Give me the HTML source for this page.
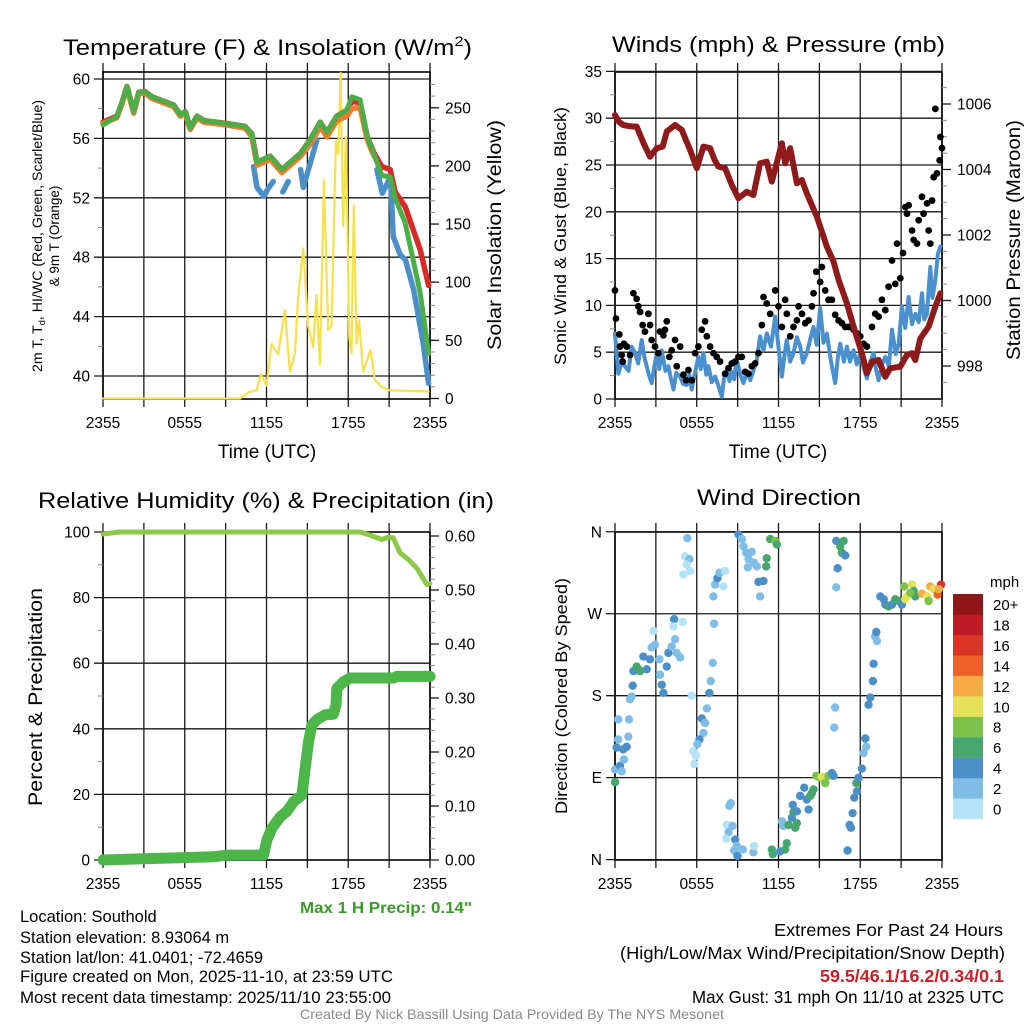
<!DOCTYPE html>
<html><head><meta charset="utf-8"><style>
html,body{margin:0;padding:0;background:#fff;}
svg{display:block;font-family:"Liberation Sans",Arial,sans-serif;}
</style></head><body>
<svg id="c" width="1024" height="1024" viewBox="0 0 1024 1024">
<rect x="0" y="0" width="1024" height="1024" fill="#fff"/>
<g id="g1"></g>
<g id="g2"></g>
<g id="g3"></g>
<g id="g4"></g>
<g font-size="22" fill="#000">
<text x="63" y="55" textLength="409" lengthAdjust="spacingAndGlyphs">Temperature (F) &amp; Insolation (W/m<tspan font-size="14" dy="-9">2</tspan><tspan dy="9">)</tspan></text>
<text x="612" y="52" textLength="333" lengthAdjust="spacingAndGlyphs">Winds (mph) &amp; Pressure (mb)</text>
<text x="38" y="508" textLength="456" lengthAdjust="spacingAndGlyphs">Relative Humidity (%) &amp; Precipitation (in)</text>
<text x="697" y="505" textLength="164" lengthAdjust="spacingAndGlyphs">Wind Direction</text>
</g>
<g font-size="19">
<text x="267" y="458" text-anchor="middle">Time (UTC)</text>
<text x="778" y="458" text-anchor="middle">Time (UTC)</text>
</g>
<g font-size="13.5">
<text transform="translate(42,236) rotate(-90)" text-anchor="middle" textLength="272" lengthAdjust="spacingAndGlyphs">2m T, T<tspan font-size="9" dy="3">d</tspan><tspan dy="-3">, HI/WC (Red, Green, Scarlet/Blue)</tspan></text>
<text transform="translate(59,236) rotate(-90)" text-anchor="middle">&amp; 9m T (Orange)</text>
</g>
<g font-size="19">
<text transform="translate(501,235) rotate(-90)" text-anchor="middle" textLength="230" lengthAdjust="spacingAndGlyphs">Solar Insolation (Yellow)</text>
<text transform="translate(566,236) rotate(-90)" text-anchor="middle" font-size="16.5" textLength="258" lengthAdjust="spacingAndGlyphs">Sonic Wind &amp; Gust (Blue, Black)</text>
<text transform="translate(1020,240) rotate(-90)" text-anchor="middle" textLength="240" lengthAdjust="spacingAndGlyphs">Station Pressure (Maroon)</text>
<text transform="translate(42,697) rotate(-90)" text-anchor="middle" textLength="218" lengthAdjust="spacingAndGlyphs">Percent &amp; Precipitation</text>
<text transform="translate(567,696) rotate(-90)" text-anchor="middle" font-size="16.5" textLength="236" lengthAdjust="spacingAndGlyphs">Direction (Colored By Speed)</text>
</g>
<text x="300" y="913" textLength="172" lengthAdjust="spacingAndGlyphs" font-size="15.5" font-weight="bold" fill="#3a9a2a">Max 1 H Precip: 0.14"</text>
<g font-size="16.5">
<text x="20" y="922">Location: Southold</text>
<text x="20" y="943">Station elevation: 8.93064 m</text>
<text x="20" y="963">Station lat/lon: 41.0401; -72.4659</text>
<text x="20" y="982" textLength="373" lengthAdjust="spacingAndGlyphs">Figure created on Mon, 2025-11-10, at 23:59 UTC</text>
<text x="20" y="1003" textLength="371" lengthAdjust="spacingAndGlyphs">Most recent data timestamp: 2025/11/10 23:55:00</text>
</g>
<g font-size="17.5">
<text x="774" y="936" textLength="229" lengthAdjust="spacingAndGlyphs">Extremes For Past 24 Hours</text>
<text x="620" y="959" textLength="385" lengthAdjust="spacingAndGlyphs">(High/Low/Max Wind/Precipitation/Snow Depth)</text>
<text x="820" y="982" textLength="184" lengthAdjust="spacingAndGlyphs" font-weight="bold" fill="#c8202a">59.5/46.1/16.2/0.34/0.1</text>
<text x="692" y="1003" textLength="312" lengthAdjust="spacingAndGlyphs">Max Gust: 31 mph On 11/10 at 2325 UTC</text>
</g>
<text x="300" y="1019" textLength="424" lengthAdjust="spacingAndGlyphs" font-size="14" fill="#8a8a8a">Created By Nick Bassill Using Data Provided By The NYS Mesonet</text>
</svg>
<script>
// ---------- data ----------
var timeTickLabels = ["2355","0555","1155","1755","2355"];
var tempRed = [[0,57.1],[1.03,57.5],[1.39,58.4],[1.76,59.5],[2.25,57.8],[2.62,59.1],[3.1,59.15],[3.59,58.8],[5.18,58.25],[5.67,57.6],[6.04,57.8],[6.41,56.7],[6.9,57.5],[7.4,57.2],[9.1,57.0],[10.44,56.8],[10.93,56.3],[11.3,54.4],[12.27,54.8],[13.13,53.9],[14.5,55.0],[15.2,55.9],[15.94,57.1],[16.43,56.4],[17.16,57.5],[17.9,57.9],[18.26,58.5],[18.87,58.4],[19.4,56.1],[19.9,55.0],[20.47,54.1],[21.08,53.9],[21.44,52.4],[22.18,51.4],[23.28,48.5],[23.9,46.1]];
var tempOrange = [[0,57.0],[1.03,57.4],[1.39,58.3],[1.76,59.4],[2.25,57.7],[2.62,59.0],[3.1,59.05],[3.59,58.7],[5.18,58.15],[5.67,57.5],[6.04,57.7],[6.41,56.6],[6.9,57.4],[7.4,57.1],[9.1,56.9],[10.44,56.7],[10.93,56.1],[11.3,54.2],[12.27,54.6],[13.13,53.7],[14.5,54.8],[15.2,55.6],[15.94,56.8],[16.43,56.1],[17.16,57.2],[17.9,57.5],[18.26,58.0],[18.87,58.1],[19.4,55.9],[19.9,54.8]];
var tempGreen = [[0,56.9],[1.03,57.5],[1.39,58.4],[1.76,59.5],[2.25,57.8],[2.62,59.1],[3.1,59.15],[3.59,58.8],[5.18,58.25],[5.67,57.6],[6.04,57.8],[6.41,56.7],[6.9,57.5],[7.4,57.2],[9.1,57.0],[10.44,56.8],[10.93,56.3],[11.3,54.4],[12.27,54.8],[13.13,53.9],[14.5,55.0],[15.2,55.9],[15.94,57.1],[16.43,56.4],[17.16,57.5],[17.9,57.9],[18.26,58.8],[18.87,58.6],[19.4,56.1],[19.9,54.9],[20.47,53.5],[21.08,53.4],[21.44,52.0],[22.18,50.3],[23.28,45.6],[23.9,41.5]];
var tempBlueA = [[11.05,54.1],[11.3,52.7],[11.8,52.1],[12.1,52.6],[12.5,53.1]];
var tempBlueB = [[13.2,52.4],[13.6,53.1]];
var tempBlueC = [[14.5,53.9],[14.7,52.7],[15.2,54.3],[15.7,55.9]];
var tempBlueD = [[20.1,53.9],[20.5,52.3],[21.1,53.4],[21.3,49.4],[21.8,48.2],[22.2,47.8],[22.8,45.8],[23.5,42.2],[23.9,39.5]];
var solar = [[0,0],[10.05,0],[10.71,5.7],[11.27,7],[11.59,21],[12.0,11],[12.37,47],[12.86,38],[13.35,76],[13.72,23],[14.09,39],[14.33,88],[14.7,129],[15.06,62],[15.43,44],[15.67,89],[15.92,29],[16.21,188],[16.53,59],[16.77,62],[17.09,221],[17.26,210],[17.44,280],[17.63,148],[17.83,225],[18.07,53],[18.24,39],[18.41,166],[18.61,47],[18.8,67],[19.1,23],[19.63,42],[19.95,16],[20.44,10],[21.05,7],[23.9,6]];
var windSpeed = [[0,7.0],[0.24,2.7],[0.5,4.0],[0.73,3.5],[1.0,3.0],[1.22,5.6],[1.47,4.9],[1.7,3.8],[1.96,6.3],[2.15,4.5],[2.33,3.5],[2.5,2.5],[2.69,1.7],[2.9,3.6],[3.06,4.9],[3.25,3.2],[3.43,5.2],[3.7,3.0],[3.92,3.5],[4.1,2.2],[4.29,1.0],[4.5,2.8],[4.78,2.4],[5.0,1.6],[5.27,1.5],[5.45,2.6],[5.63,1.0],[5.9,3.0],[6.12,4.5],[6.3,3.2],[6.49,4.9],[6.7,2.6],[6.86,3.5],[7.1,1.8],[7.35,2.4],[7.6,1.4],[7.84,0.25],[8.0,2.2],[8.2,3.1],[8.4,1.9],[8.57,2.9],[8.75,2.1],[8.94,4.2],[9.2,2.6],[9.43,1.7],[9.7,3.0],[9.92,2.0],[10.2,3.2],[10.41,4.2],[10.65,6.7],[10.9,5.2],[11.14,7.0],[11.45,5.6],[11.76,8.8],[12.0,5.5],[12.25,2.4],[12.45,4.8],[12.61,6.3],[12.85,4.0],[13.1,4.9],[13.35,6.6],[13.59,5.6],[13.8,3.9],[14.08,4.9],[14.3,6.2],[14.57,7.7],[14.8,5.8],[15.06,9.7],[15.3,6.0],[15.55,7.0],[15.85,4.0],[16.16,1.7],[16.35,4.4],[16.53,5.9],[16.8,4.0],[17.02,5.6],[17.25,4.0],[17.51,5.2],[17.75,3.7],[18.0,4.9],[18.25,3.3],[18.49,2.2],[18.75,4.0],[18.98,4.9],[19.15,3.2],[19.35,2.0],[19.6,3.7],[19.84,4.5],[20.1,3.5],[20.33,7.4],[20.6,4.8],[20.82,5.9],[21.06,9.9],[21.3,7.6],[21.55,10.9],[21.8,8.0],[22.04,9.1],[22.3,8.2],[22.53,11.3],[22.7,8.5],[22.9,9.1],[23.14,14.1],[23.3,10.8],[23.51,12.7],[23.7,15.5],[23.88,16.3]];
var gustT = [0,0.07,0.32,0.37,0.49,0.56,0.66,0.86,1.10,1.35,1.59,1.71,1.84,2.03,2.20,2.45,2.57,2.69,2.94,3.18,3.31,3.55,3.67,3.80,3.99,4.16,4.41,4.53,4.78,5.02,5.22,5.39,5.63,5.88,6.12,6.37,6.61,6.74,6.98,7.22,7.47,7.71,8.08,8.33,8.57,8.82,9.06,9.31,9.55,9.80,10.04,10.29,10.53,10.78,10.90,11.14,11.39,11.76,12.00,12.25,12.49,12.61,12.86,13.10,13.35,13.47,13.72,13.96,14.21,14.45,14.57,14.77,15.06,15.18,15.43,15.67,15.92,16.16,16.41,16.65,16.90,17.14,17.51,17.76,18.00,18.25,18.49,18.86,19.10,19.35,19.59,19.84,20.08,20.33,20.57,20.70,20.94,21.14,21.31,21.43,21.55,21.80,21.92,22.16,22.29,22.53,22.65,22.90,23.02,23.14,23.27,23.39,23.51,23.63,23.83,23.88,24.0];
var gustV = [11.6,8.6,6.9,5.6,4.7,4.0,5.9,5.6,4.7,11.3,10.7,9.9,9.3,7.9,7.2,9.1,7.9,6.3,5.6,4.9,7.2,6.8,7.4,8.3,4.5,5.2,6.3,3.5,5.6,2.6,2.0,3.1,2.0,4.9,5.6,7.4,8.3,6.7,5.6,4.9,4.5,4.0,2.7,3.3,3.8,4.0,4.5,4.5,2.9,2.7,3.5,3.8,4.9,7.9,10.9,10.2,9.1,11.6,9.9,7.7,10.6,9.1,6.7,7.7,8.4,9.9,9.1,8.1,8.4,9.9,11.3,13.6,12.5,14.1,11.6,10.6,10.6,9.0,8.4,8.1,7.7,7.7,7.4,7.0,6.7,5.9,5.6,7.7,9.1,8.8,10.6,9.5,12.0,14.8,12.3,16.6,12.9,15.6,20.5,19.8,20.7,18.0,17.0,16.6,19.1,21.6,19.8,20.9,18.0,16.6,21.2,23.7,31.0,24.1,25.5,28.0,26.8];
var pressure = [[0,1005.66],[0.3,1005.45],[0.61,1005.36],[1.1,1005.32],[1.59,1005.31],[2.1,1004.8],[2.57,1004.39],[3.06,1004.65],[3.5,1004.7],[3.80,1005.16],[4.41,1005.36],[4.90,1005.21],[5.2,1004.9],[5.51,1004.6],[6.0,1004.04],[6.49,1004.7],[6.98,1004.65],[7.3,1004.3],[7.59,1004.09],[8.08,1004.04],[8.57,1003.53],[9.06,1003.12],[9.67,1003.32],[10.16,1003.22],[10.65,1004.19],[11.14,1004.24],[11.51,1003.63],[12.25,1004.8],[12.49,1004.19],[12.86,1004.65],[13.35,1003.58],[13.72,1003.68],[14.08,1003.27],[14.82,1002.56],[15.55,1001.64],[16.04,1001.19],[16.41,1000.63],[17.02,999.91],[17.51,999.2],[18.12,998.39],[18.49,997.78],[18.86,998.13],[19.35,998.18],[19.84,997.67],[20.2,997.93],[20.94,997.98],[21.43,998.34],[21.8,998.39],[22.04,998.18],[22.41,998.84],[23.02,999.2],[23.51,999.81],[23.88,1000.22]];
var rh = [[0,99.4],[1.2,100],[18.88,100],[19.61,99],[20.46,97.7],[20.95,98.4],[21.3,98.2],[21.81,93.6],[22.42,91.6],[23.03,89],[23.4,86.5],[23.77,84],[24,84.3]];
var precip = [[0,0],[8.12,0.006],[9.1,0.009],[11.78,0.009],[12.03,0.037],[12.4,0.059],[13.01,0.08],[13.5,0.09],[13.99,0.108],[14.6,0.12],[14.84,0.17],[15.09,0.22],[15.33,0.25],[15.7,0.26],[16.31,0.269],[16.9,0.27],[17.1,0.287],[17.16,0.318],[17.65,0.33],[18.14,0.337],[21.32,0.337],[21.56,0.34],[24,0.34]];
var dirT = [0,0,0.37,0.49,0.66,0.12,0.24,0.61,0.86,0.98,0.24,1.03,1.10,1.22,1.30,1.35,1.59,1.71,1.84,2.08,2.33,2.57,2.69,2.94,2.82,3.26,3.31,3.43,3.55,3.80,3.92,4.16,4.41,4.53,4.78,4.34,4.29,4.97,5.63,5.31,5.14,5.46,5.27,5.51,5.02,7.27,7.18,7.03,6.93,6.74,6.37,6.61,6.49,6.20,6.05,5.76,5.83,5.95,7.22,7.35,7.52,7.67,7.96,8.08,8.50,8.40,8.20,8.33,8.16,8.62,8.82,8.94,8.74,8.99,9.38,10.16,10.21,9.06,9.31,9.43,9.63,10.04,9.80,10.21,10.41,9.75,10.53,10.90,10.65,11.14,11.10,11.39,11.76,11.88,11.51,11.58,12.12,12.49,12.25,12.37,12.61,12.74,13.23,13.35,12.98,13.10,13.35,13.05,13.59,13.89,14.08,14.21,14.33,14.45,14.57,14.77,15.06,15.18,15.43,15.67,15.92,16.04,16.16,16.09,16.24,16.53,16.65,16.90,16.34,16.24,16.78,17.07,17.22,17.32,17.44,17.56,17.76,17.71,17.88,18.12,18.25,18.44,18.37,18.61,18.74,18.93,18.98,19.10,19.23,19.18,19.47,19.72,19.84,20.08,20.33,20.57,20.82,21.06,21.23,21.43,21.80,21.92,22.04,21.67,22.53,22.90,23.02,23.14,23.39,23.68,23.93,23.76,21.31];
var dirDeg = [85,99,103,97,110,123,132,121,124,135,154,154,176,179,191,207,212,209,207,223,209,220,233,236,251,220,203,192,183,212,227,234,242,227,222,264,256,261,180,353,333,330,324,317,313,259,216,196,183,166,155,150,139,132,127,119,105,114,289,302,309,315,300,317,62,59,38,30,23,37,22,15,10,4,11,8,15,357,352,344,337,338,330,326,322,321,305,306,289,331,322,352,350,346,11,6,9,11,42,37,18,38,35,40,46,52,53,60,70,79,66,55,70,73,77,92,90,91,84,92,95,92,167,145,350,344,337,334,320,299,350,10,38,35,51,68,75,84,90,100,117,124,133,170,178,196,215,245,240,250,289,286,280,278,280,286,284,280,300,289,302,295,289,293,292,289,284,300,297,291,302,297,286];
var dirSpd = [7,3,5,3,3,5,3,5,5,3,3,3,3,3,5,5,7,7,7,5,5,5,3,3,1,3,3,5,5,5,5,3,3,3,3,5,1,1,1,3,1,3,1,1,1,3,3,3,5,3,5,3,3,5,3,1,1,1,3,3,5,3,1,1,3,3,1,3,1,3,5,3,3,5,3,3,1,5,3,3,3,3,3,3,3,3,5,5,3,7,7,7,9,7,7,7,5,7,3,3,7,7,7,7,5,7,5,5,5,5,5,5,7,7,7,9,9,11,9,9,5,5,3,3,5,7,7,5,5,3,7,5,5,5,5,5,5,7,5,5,3,3,5,5,5,5,5,3,3,5,5,5,5,7,5,7,7,5,9,11,11,7,7,9,13,11,9,13,11,14,17,12,11];
var speedBins = ["0","2","4","6","8","10","12","14","16","18","20+"];
var binColors = ["#b4e2f6","#7fbce6","#4a8fc8","#46a66e","#7cc24a","#e6e058","#f6ab46","#ee6229","#dc3327","#bd1c24","#8f1519"];
var dirLabels = ["N","E","S","W","N"];

// ---------- scales ----------
var NS = "http://www.w3.org/2000/svg";
function mk(parent, tag, attrs){ var e=document.createElementNS(NS,tag); for(var k in attrs) e.setAttribute(k,attrs[k]); parent.appendChild(e); return e; }
function xL(t){ return 103 + t/24*327; }
function xR(t){ return 615 + t/24*327; }
function yTemp(v){ return 79 + (60-v)*14.85; }
function ySolar(v){ return 398.5 - v*1.163; }
function yWind(v){ return 399 - v*9.36; }
function yPres(p){ return 104 + (1006-p)*32.75; }
function yRH(v){ return 860 - v*3.28; }
function yPr(v){ return 860 - v*540; }
function yDir(d){ return 859.6 - d*0.9106; }

function frame(g, xs, x0, x1, y0, y1, name){
  var i, t, x;
  for(i=0;i<=8;i++){ t=i*3; x=xs(t);
    var l=mk(g,'line',{x1:x,x2:x,y1:y0-9,y2:y1+8,stroke:'#1a1a1a','stroke-width':1.3});
    
    
  }
  for(i=0;i<timeTickLabels.length;i++){ x=xs(i*6);
    var tx=mk(g,'text',{x:x,y:y1+29,'font-size':15.5,'text-anchor':'middle'});
    tx.textContent=timeTickLabels[i];
    
    
  }
  var b=mk(g,'rect',{x:x0,y:y0,width:x1-x0,height:y1-y0,fill:'none',stroke:'#000','stroke-width':1.6});
  
  
}
function leftAxis(g, x0, x1, ys, majors, labels, minors, name, grid){
  var i,y;
  for(i=0;i<minors.length;i++){ y=ys(minors[i]);
    var m=mk(g,'line',{x1:x0-5,x2:x0,y1:y,y2:y,stroke:'#888','stroke-width':1});
    
    
  }
  for(i=0;i<majors.length;i++){ y=ys(majors[i]);
    var l=mk(g,'line',{x1:x0-9,x2:grid?x1:x0,y1:y,y2:y,stroke:'#1a1a1a','stroke-width':1.3});
    
    
    var tx=mk(g,'text',{x:x0-13,y:y+5.5,'font-size':15.5,'text-anchor':'end'});
    tx.textContent=labels[i];
    
    
  }
}
function rightAxis(g, x1, ys, majors, labels, minors, name){
  var i,y;
  for(i=0;i<minors.length;i++){ y=ys(minors[i]);
    var m=mk(g,'line',{x1:x1,x2:x1+5,y1:y,y2:y,stroke:'#888','stroke-width':1});
    
    
  }
  for(i=0;i<majors.length;i++){ y=ys(majors[i]);
    var l=mk(g,'line',{x1:x1,x2:x1+9,y1:y,y2:y,stroke:'#1a1a1a','stroke-width':1.3});
    
    
    var tx=mk(g,'text',{x:x1+15,y:y+5.5,'font-size':15.5});
    tx.textContent=labels[i];
    
    
  }
}
function range(a,b,s){ var r=[]; for(var v=a; v<=b+1e-9; v+=s) r.push(Math.round(v*1000)/1000); return r; }
function pathD(pts, xs, ys){ return pts.map(function(p,i){ return (i?'L':'M')+xs(p[0]).toFixed(1)+','+ys(p[1]).toFixed(1); }).join(''); }
function series(g, pts, xs, ys, color, w, name){
  var p=mk(g,'path',{d:pathD(pts,xs,ys),fill:'none',stroke:color,'stroke-width':w,'stroke-linejoin':'round','stroke-linecap':'round'});
  
  
  return p;
}

// ---------- panel 1 ----------
var g1=document.getElementById('g1');
frame(g1, xL, 103, 430, 72, 399, 'temperature');
leftAxis(g1, 103, 430, yTemp, [40,44,48,52,56,60], ["40","44","48","52","56","60"], [42,46,50,54,58], 'temperature', true);
rightAxis(g1, 430, ySolar, range(0,250,50), ["0","50","100","150","200","250"], range(0,270,10), 'insolation');
series(g1, solar, xL, ySolar, '#f7e04a', 2.2, 'solar-insolation-line');
series(g1, tempBlueA, xL, yTemp, '#4a8fc8', 5.5, 'wind-chill-segment-1');
series(g1, tempBlueB, xL, yTemp, '#4a8fc8', 5.5, 'wind-chill-segment-2');
series(g1, tempBlueC, xL, yTemp, '#4a8fc8', 5.5, 'wind-chill-segment-3');
series(g1, tempBlueD, xL, yTemp, '#4a8fc8', 5.5, 'wind-chill-segment-4');
series(g1, tempRed, xL, yTemp, '#d82a26', 5.5, 'temperature-2m-line');
series(g1, tempOrange, xL, yTemp, '#f4792a', 5.5, 'temperature-9m-line');
series(g1, tempGreen, xL, yTemp, '#4cae48', 5, 'dewpoint-line');

// ---------- panel 2 ----------
var g2=document.getElementById('g2');
frame(g2, xR, 615, 942, 72, 399, 'winds');
leftAxis(g2, 615, 942, yWind, range(0,35,5), ["0","5","10","15","20","25","30","35"], range(2.5,32.5,5), 'wind', true);
rightAxis(g2, 942, yPres, [998,1000,1002,1004,1006], ["998","1000","1002","1004","1006"], range(997.5,1006.5,0.5), 'pressure');
series(g2, windSpeed, xR, yWind, '#4a90cf', 4, 'sonic-wind-line');
for(var i=0;i<gustT.length;i++){
  var c=mk(g2,'circle',{cx:xR(gustT[i]),cy:yWind(gustV[i]),r:3.4,fill:'#000'});
  
  
}
series(g2, pressure, xR, yPres, '#8e1a1c', 6, 'pressure-line');

// ---------- panel 3 ----------
var g3=document.getElementById('g3');
frame(g3, xL, 103, 430, 532, 860, 'humidity');
leftAxis(g3, 103, 430, yRH, range(0,100,20), ["0","20","40","60","80","100"], range(10,90,20), 'humidity', true);
rightAxis(g3, 430, yPr, range(0,0.6,0.1), ["0.00","0.10","0.20","0.30","0.40","0.50","0.60"], range(0,0.6,0.02), 'precip');
series(g3, rh, xL, yRH, '#8cc84a', 5, 'relative-humidity-line');
series(g3, precip, xL, yPr, '#4cb648', 11, 'precipitation-line');

// ---------- panel 4 ----------
var g4=document.getElementById('g4');
frame(g4, xR, 615, 942, 532, 860, 'direction');
leftAxis(g4, 615, 942, yDir, [0,90,180,270,360], dirLabels, [], 'direction', true);
for(var j=0;j<dirT.length;j++){
  var bi=Math.min(10, Math.floor(dirSpd[j]/2));
  var d=mk(g4,'circle',{cx:xR(dirT[j]),cy:yDir(dirDeg[j]),r:4.2,fill:binColors[bi]});
  
  
}
for(var k=0;k<speedBins.length;k++){
  var boxTop=594 + (10-k)*20.45;
  var r=mk(g4,'rect',{x:953,y:boxTop,width:30,height:20.6,fill:binColors[k]});
  
  
  var lt=mk(g4,'text',{x:993,y:boxTop+16,'font-size':15});
  lt.textContent=speedBins[k];
  
  
}
var mph=mk(g4,'text',{x:990,y:587,'font-size':15});
mph.textContent='mph';


</script>
</body></html>
